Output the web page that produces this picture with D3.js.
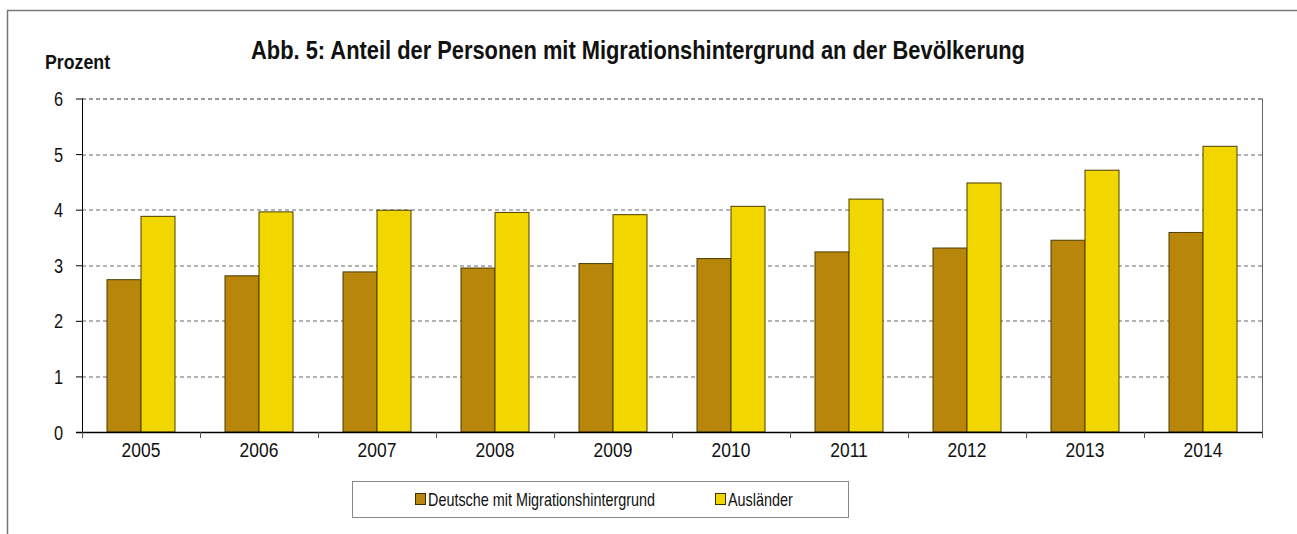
<!DOCTYPE html>
<html>
<head>
<meta charset="utf-8">
<script src="https://cdn.jsdelivr.net/npm/d3@7"></script>
<style>
  body { margin: 0; background: #fff; }
  text { font-family: "Liberation Sans", Arial, sans-serif; fill: #111; }
</style>
</head>
<body>
<div id="chart"></div>
<script>
// data
const years = ["2005", "2006", "2007", "2008", "2009", "2010", "2011", "2012", "2013", "2014"];
const deutsche = [2.74, 2.81, 2.88, 2.95, 3.03, 3.12, 3.24, 3.31, 3.45, 3.59];
const auslaender = [3.88, 3.96, 3.99, 3.95, 3.91, 4.06, 4.19, 4.48, 4.71, 5.14];
const seriesNames = ["Deutsche mit Migrationshintergrund", "Ausländer"];
const seriesColours = ["#B8860B", "#F2D600"];
const yTicks = [0, 1, 2, 3, 4, 5, 6];

let width = 1297;
let height = 534;
let margin = {top: 98.5, right: 35, bottom: 102, left: 82}; // plot area 82..1262 x 98.5..432

let svg = d3.select("#chart").append("svg")
    .attr("width", width)
    .attr("height", height);

/*narrowText: appends a horizontally squeezed text (Arial Narrow is not installed)
*Parameters:
*   parent selection, x, y, text, font size, squeeze factor, anchor, weight
*Returns:
*   the text selection
*/
function narrowText(parent, x, y, txt, size, squeeze, anchor, weight) {
    return parent.append("text")
        .attr("transform", "translate(" + x + "," + y + ") scale(" + squeeze + ",1)")
        .attr("text-anchor", anchor || "start")
        .attr("font-size", size)
        .attr("font-weight", weight || "normal")
        .text(txt);
}

// outer frame (left and top only visible)
svg.append("path")
   .attr("d", "M7.5," + height + "V10.5H" + width)
   .attr("fill", "none")
   .attr("stroke", "#777")
   .attr("stroke-width", 1.5);

let plotW = width - margin.left - margin.right;
let plotH = height - margin.top - margin.bottom;

let g = svg.append("g")
    .attr("transform", "translate(" + margin.left + "," + margin.top + ")");

let x = d3.scaleBand().domain(years).range([0, plotW]).paddingInner(50 / 118).paddingOuter(25 / 118);
let xBand = d3.scaleBand().domain(years).range([0, plotW]);
let y = d3.scaleLinear().domain([0, 6]).range([plotH, 0]);
let inner = d3.scaleBand().domain([0, 1]).range([0, x.bandwidth()]);

//gridlines
g.selectAll(".grid")
 .data(yTicks.filter(d => d > 0))
 .enter().append("line")
 .attr("x1", 0).attr("x2", plotW)
 .attr("y1", d => Math.round(y(d)) + 0.5)
 .attr("y2", d => Math.round(y(d)) + 0.5)
 .attr("stroke", d => d == 6 ? "#333" : "#666")
 .attr("stroke-width", 1)
 .attr("stroke-dasharray", "4,3");

// right border of plot
g.append("line")
 .attr("x1", plotW + 0.5).attr("x2", plotW + 0.5)
 .attr("y1", 0).attr("y2", plotH)
 .attr("stroke", "#666");

//bars
let both = [deutsche, auslaender];
both.forEach(function(values, s) {
    g.selectAll(".bar" + s)
     .data(values)
     .enter().append("rect")
     .attr("x", (d, i) => x(years[i]) + inner(s))
     .attr("y", d => y(d))
     .attr("width", inner.bandwidth())
     .attr("height", d => plotH - y(d))
     .attr("fill", seriesColours[s])
     .attr("stroke", "#4a3c00")
     .attr("stroke-width", 1);
});

// y axis
let yAxis = g.append("g")
    .call(d3.axisLeft(y).tickValues(yTicks).tickSize(6).tickFormat(d3.format("d")));
yAxis.attr("font-family", null).attr("font-size", null);
yAxis.select(".domain").attr("stroke", "#000").attr("d", "M0.5,0V" + plotH);
yAxis.selectAll(".tick line").attr("stroke", "#000");
yAxis.selectAll(".tick text")
     .attr("x", 0).attr("dy", null)
     .attr("transform", "translate(-19,7) scale(0.84,1)")
     .attr("font-size", 19.5)
     .attr("fill", "#111");

// x axis with ticks between categories
let xAxis = g.append("g")
    .attr("transform", "translate(0," + plotH + ")");
xAxis.append("line")
     .attr("x1", -6).attr("x2", plotW)
     .attr("y1", 0.5).attr("y2", 0.5)
     .attr("stroke", "#000").attr("stroke-width", 1.5);
xAxis.selectAll(".xtick")
     .data(years.concat(["end"]))
     .enter().append("line")
     .attr("x1", (d, i) => i * xBand.bandwidth() + 0.5)
     .attr("x2", (d, i) => i * xBand.bandwidth() + 0.5)
     .attr("y1", 0).attr("y2", 6)
     .attr("stroke", "#555");
years.forEach(function(d) {
    narrowText(xAxis, xBand(d) + xBand.bandwidth() / 2, 25, d, 20.5, 0.85, "middle");
});

//title and unit label
narrowText(svg, 638, 58.5, "Abb. 5: Anteil der Personen mit Migrationshintergrund an der Bevölkerung", 25, 0.875, "middle", "bold");
narrowText(svg, 45, 68.5, "Prozent", 21, 0.845, "start", "bold");

// legend
let legend = svg.append("g");
legend.append("rect")
      .attr("x", 352.5).attr("y", 481.5)
      .attr("width", 496).attr("height", 36)
      .attr("fill", "#fff").attr("stroke", "#888");
let legendX = [415.5, 715.5];
seriesNames.forEach(function(name, s) {
    legend.append("rect")
          .attr("x", legendX[s]).attr("y", 493.5)
          .attr("width", 10).attr("height", 11)
          .attr("fill", seriesColours[s])
          .attr("stroke", "#3a3000");
    narrowText(legend, legendX[s] + 12.5, 505.5, name, 18, 0.8);
});
</script>
</body>
</html>
